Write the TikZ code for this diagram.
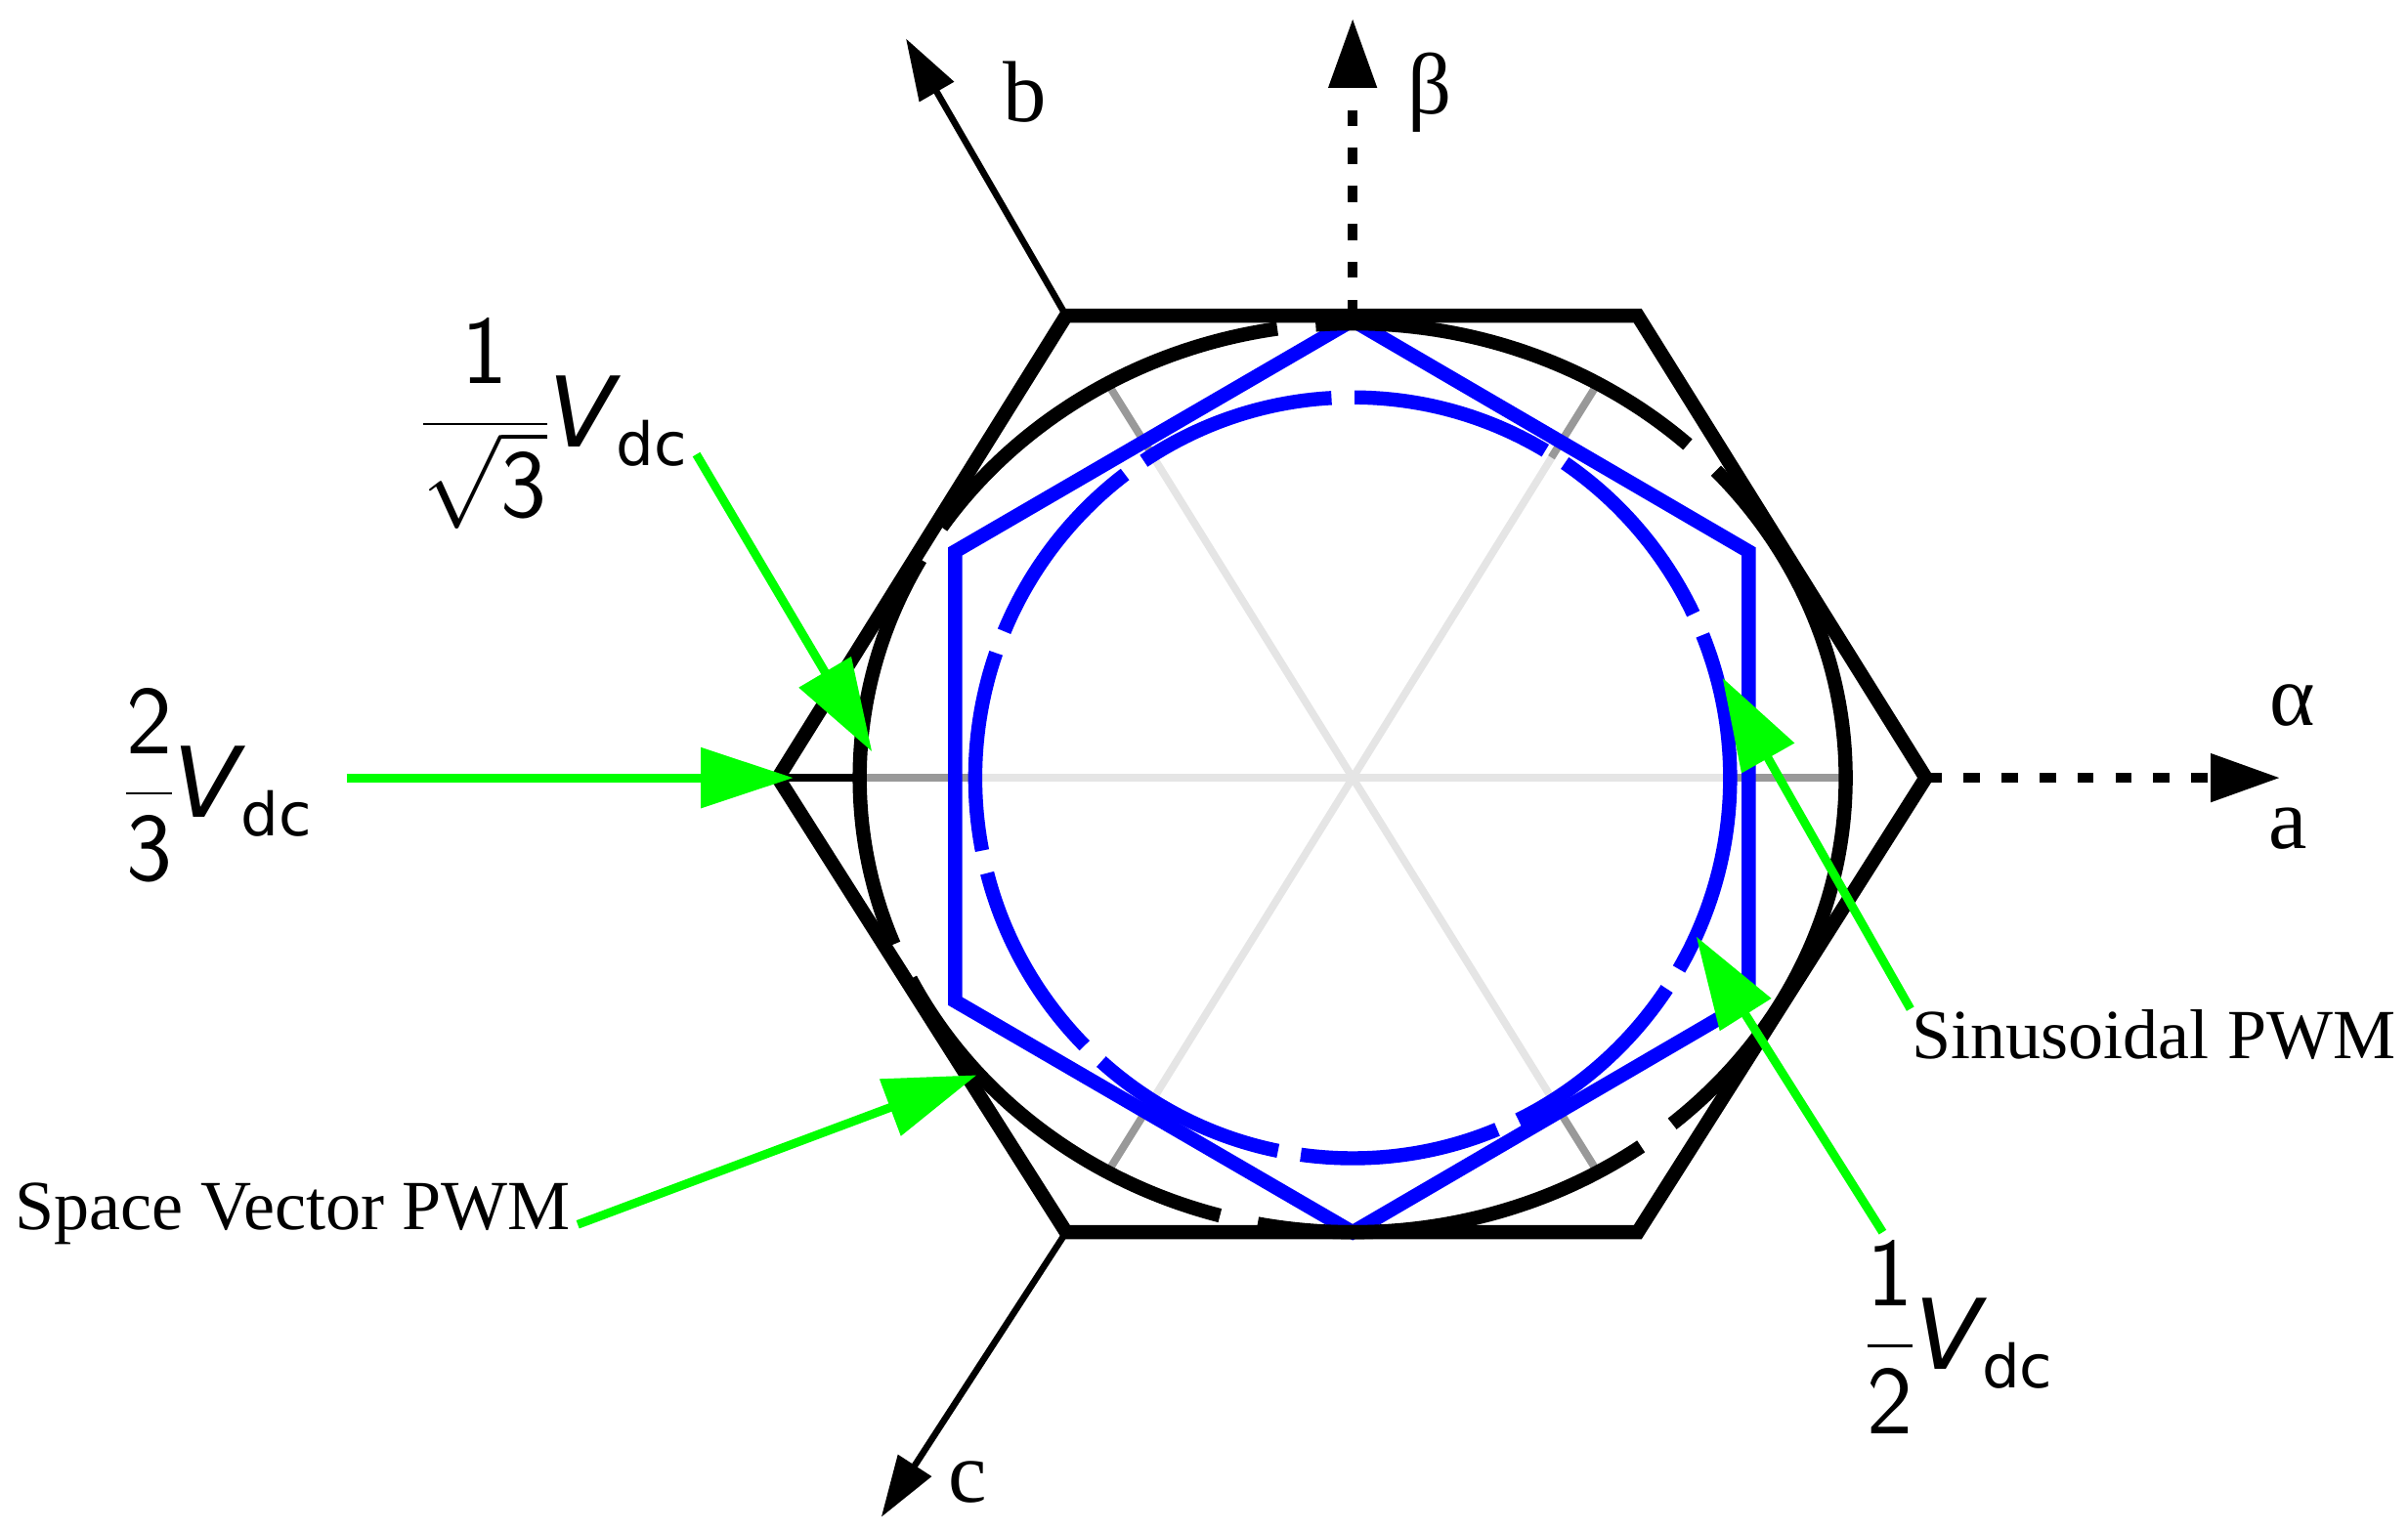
\documentclass[tikz,border=0pt]{standalone}
\usepackage{fontspec}
\setmainfont{Liberation Serif}
\usetikzlibrary{arrows.meta}
\newfontfamily\lblfont{DejaVu Sans}
\newcommand{\vdcx}{\kern-0.05em\textit{V}\kern-0.05em\raisebox{-0.35ex}{\fontsize{11}{12}\selectfont dc}}
\begin{document}
\begin{tikzpicture}[x=0.01cm,y=-0.01cm,
  grn/.style={draw={rgb,255:red,0;green,255;blue,0},line width=1.6pt,-{Triangle[length=0.6cm,width=0.38cm]}},
  ax/.style={line width=1.2pt,-{Triangle[length=0.4cm,width=0.25cm]}},
  dax/.style={line width=1.8pt,dash pattern=on 3pt off 4pt,-{Triangle[length=0.45cm,width=0.3cm]}},
  lab/.style={font=\fontsize{16}{18}\selectfont},
  vl/.style={font=\lblfont\fontsize{18}{20}\selectfont,inner sep=0pt},
  tl/.style={font=\fontsize{13}{15}\selectfont,inner sep=0pt}]
\useasboundingbox (0,0) rectangle (1563,994);
\definecolor{lg}{gray}{0.9}\definecolor{dg}{gray}{0.6}
\coordinate (O) at (878,505);
% spokes
\foreach \dx/\dy in {320/0,-320/0,159/-256,-159/-256,159/256,-159/256}{
  \draw[lg,line width=1.4pt] (O) -- ++(\dx,\dy);
}
\draw[dg,line width=1.4pt] (1123,505)--(1198,505) (633,505)--(558,505) (1007,297)--(1037,249) (749,297)--(719,249) (1007,713)--(1037,761) (749,713)--(719,761);
% blue
\draw[blue,line width=2.6pt] (878,208)--(1135,358)--(1135,650)--(878,800)--(620,650)--(620,358)--cycle;
\draw[blue,line width=2.6pt,dash pattern=on 1.3cm off 0.15cm] (O) ellipse [x radius=245,y radius=247];
% black
\draw[line width=2.6pt,dash pattern=on 2.6cm off 0.25cm] (O) ellipse [x radius=320,y radius=295];
\draw[line width=2.6pt] (1250,505)--(1063,205)--(692,205)--(505,505)--(692,800)--(1063,800)--cycle;
\draw[line width=1.4pt] (505,505)--(560,505);
% axes
\coordinate (va) at (1250,505);\coordinate (vb) at (692,205);\coordinate (vc) at (692,800);\coordinate (vt) at (878,205);
\draw[dax] (va) -- (1480,505);
\draw[dax] (vt) -- (878,12);
\draw[ax] (vb) -- (588,25);
\draw[ax] (vc) -- (572,985);
\node[lab] (alpha) at (1488,458) {α};
\node[lab] (la) at (1485,538) {a};
\node[lab] (lbeta) at (928,60) {β};
\node[lab] (lb) at (665,60) {b};
\node[lab] (lc) at (628,962) {c};
% green
\node[vl] (t23) at (140,510) {$\displaystyle\frac{\mathsf{2}}{\mathsf{3}}$\vdcx};
\node[vl] (tr3) at (358,275) {$\displaystyle\frac{\mathsf{1}}{\sqrt{\mathsf{3}}}$\vdcx};
\node[vl] (t12) at (1270,868) {$\displaystyle\frac{\mathsf{1}}{\mathsf{2}}$\vdcx};
\node[tl] (svp) at (190,788) {Space Vector PWM};
\node[tl] (sp) at (1398,672) {Sinusoidal PWM};
\coordinate (g1) at (225,505);\coordinate (h1) at (515,505);
\coordinate (g2) at (452,295);\coordinate (h2) at (566,488);
\coordinate (g3) at (375,795);\coordinate (h3) at (634,698);
\coordinate (g4) at (1240,655);\coordinate (h4) at (1118,440);
\coordinate (g5) at (1222,800);\coordinate (h5) at (1101,608);
\draw[grn] (g1)--(h1);\draw[grn] (g2)--(h2);\draw[grn] (g3)--(h3);\draw[grn] (g4)--(h4);\draw[grn] (g5)--(h5);
\end{tikzpicture}
\end{document}
